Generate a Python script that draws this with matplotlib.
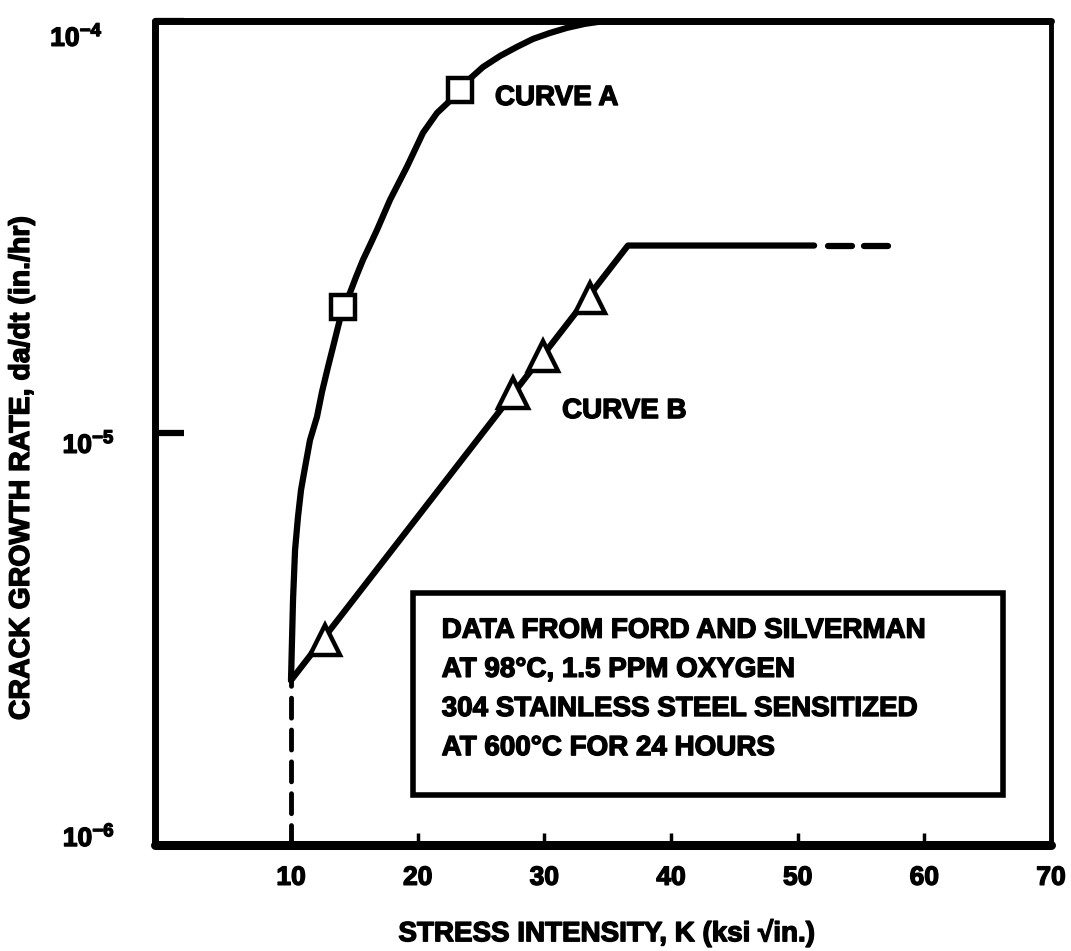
import matplotlib
matplotlib.use("Agg")
import matplotlib.pyplot as plt
import matplotlib.patheffects as pe
from matplotlib.patches import Rectangle
from matplotlib.transforms import ScaledTranslation

plt.rcParams['font.family'] = ['Liberation Sans', 'DejaVu Sans']
plt.rcParams['font.weight'] = 'bold'
plt.rcParams['mathtext.fontset'] = 'custom'
plt.rcParams['mathtext.rm'] = 'Liberation Sans:bold'
plt.rcParams['mathtext.bf'] = 'Liberation Sans:bold'
plt.rcParams['mathtext.it'] = 'Liberation Sans:bold'
plt.rcParams['mathtext.default'] = 'bf'

# Curve A: crack growth rate vs stress intensity
curve_a_k = [10.0, 10.08, 10.16, 10.32, 10.55, 10.79, 11.11, 11.50, 12.05, 12.45,
             12.92, 13.32, 13.71, 14.11, 14.66, 15.13, 15.68, 16.24, 16.79, 17.82,
             19.16, 20.42, 21.53, 22.55, 23.34, 24.21, 25.16, 26.50, 27.84, 29.10,
             30.45, 31.79, 33.21, 34.79, 70.0]
curve_a_rate = [2.51e-6, 3.15e-6, 3.94e-6, 5.20e-6, 6.25e-6, 7.27e-6, 8.26e-6, 9.61e-6,
                1.094e-5, 1.259e-5, 1.446e-5, 1.618e-5, 1.808e-5, 2.02e-5, 2.19e-5,
                2.39e-5, 2.63e-5, 2.86e-5, 3.11e-5, 3.68e-5, 4.43e-5, 5.35e-5, 5.98e-5,
                6.40e-5, 6.81e-5, 7.28e-5, 7.73e-5, 8.22e-5, 8.65e-5, 9.04e-5, 9.35e-5,
                9.62e-5, 9.84e-5, 1.0e-4, 1.0e-4]
curve_a_marker_k = [14.11, 23.34]
curve_a_marker_rate = [2.02e-5, 6.81e-5]

# Threshold extension below the common starting point
threshold_k = [10.0, 10.0]
threshold_rate = [1.0e-6, 2.51e-6]

# Curve B
curve_b_k = [10.0, 36.6, 51.3]
curve_b_rate = [2.51e-6, 2.85e-5, 2.85e-5]
curve_b_ext_k = [52.4, 57.7]
curve_b_ext_rate = [2.85e-5, 2.85e-5]
curve_b_marker_k = [12.7, 27.5, 29.9, 33.6]
curve_b_marker_rate = [3.14e-6, 1.25e-5, 1.54e-5, 2.13e-5]

# Axis ticks and labels
x_ticks = [10, 20, 30, 40, 50, 60, 70]
x_tick_labels = ['10', '20', '30', '40', '50', '60', '70']
y_ticks = [1e-6, 1e-5, 1e-4]
y_tick_labels = [r'$10^{-6}$', r'$10^{-5}$', r'$10^{-4}$']
x_label = 'STRESS INTENSITY, K (ksi \u221ain.)'
y_label = 'CRACK GROWTH RATE, da/dt (in./hr)'

curve_a_label = 'CURVE A'
curve_a_label_pos = (26.1, 6.5e-5)
curve_b_label = 'CURVE B'
curve_b_label_pos = (31.4, 1.13e-5)

note_lines = ['DATA FROM FORD AND SILVERMAN',
              'AT 98\u00b0C, 1.5 PPM OXYGEN',
              '304 STAINLESS STEEL SENSITIZED',
              'AT 600\u00b0C FOR 24 HOURS']

ink = [pe.withStroke(linewidth=1.0, foreground='black')]

fig = plt.figure(figsize=(10.71, 9.51), dpi=100)
ax = fig.add_axes([0.1447, 0.1115, 0.8366, 0.8665])
ax.set_yscale('log')
ax.set_xlim(-0.74, 70)
ax.set_ylim(1e-6, 1e-4)

lw_curve = 4.5
ax.plot(curve_a_k, curve_a_rate, color='black', lw=lw_curve,
        solid_capstyle='round', solid_joinstyle='round', zorder=4)
ax.plot(threshold_k, threshold_rate, color='black', lw=3.5,
        dashes=(4.1, 2.45), dash_capstyle='round', zorder=4)
ax.plot(curve_b_k, curve_b_rate, color='black', lw=lw_curve,
        solid_capstyle='round', solid_joinstyle='round', zorder=4)
ax.plot(curve_b_ext_k, curve_b_ext_rate, color='black', lw=lw_curve,
        dashes=(3.84, 1.92), dash_capstyle='round', zorder=4)

ax.plot(curve_a_marker_k, curve_a_marker_rate, linestyle='none', marker='s',
        markersize=17.5, markerfacecolor='white', markeredgecolor='black',
        markeredgewidth=3.2, zorder=5)
ax.plot(curve_b_marker_k, curve_b_marker_rate, linestyle='none', marker='^',
        markersize=21, markerfacecolor='white', markeredgecolor='black',
        markeredgewidth=3.2, zorder=5)

ax.text(*curve_a_label_pos, curve_a_label, fontsize=20, fontweight='bold',
        ha='left', va='center', zorder=6, path_effects=ink)
ax.text(*curve_b_label_pos, curve_b_label, fontsize=20, fontweight='bold',
        ha='left', va='center', zorder=6, path_effects=ink)

# Note box
box = Rectangle((0.288, 0.0607), 0.658, 0.245, transform=ax.transAxes,
                facecolor='white', edgecolor='black', lw=4, zorder=3)
ax.add_patch(box)
for i, line in enumerate(note_lines):
    ax.text(0.320, 0.260 - i * 0.0475, line, transform=ax.transAxes,
            fontsize=20, fontweight='bold', ha='left', va='center', zorder=6,
            path_effects=ink)

# Frame
for side, w in (('left', 5), ('bottom', 6.5), ('top', 5), ('right', 3.5)):
    ax.spines[side].set_linewidth(w)
    ax.spines[side].set_capstyle('round')

ax.set_xticks(x_ticks)
ax.set_xticklabels(x_tick_labels)
ax.set_yticks(y_ticks)
ax.set_yticklabels(y_tick_labels)
ax.minorticks_off()
ax.tick_params(axis='x', direction='in', length=9, width=2.5, pad=15,
               labelsize=19)
ax.tick_params(axis='y', direction='in', length=21, width=4.5, pad=29,
               labelsize=19)
for lab in ax.get_xticklabels() + ax.get_yticklabels():
    lab.set_path_effects(ink)

# Hand-lettered exponent labels sit a little off their tick lines
y_label_shift = [(0, 10), (0, -9), (-12, -14)]
for lab, (dx, dy) in zip(ax.get_yticklabels(), y_label_shift):
    lab.set_transform(lab.get_transform() +
                      ScaledTranslation(dx / 100, dy / 100, fig.dpi_scale_trans))

ax.set_xlabel(x_label, fontsize=20, fontweight='bold', path_effects=ink)
ax.xaxis.set_label_coords(0.504, -0.090)
ax.set_ylabel(y_label, fontsize=20.5, fontweight='bold', path_effects=ink)
ax.yaxis.set_label_coords(-0.134, 0.457)

fig.savefig('out.png', dpi=100, facecolor='white')
